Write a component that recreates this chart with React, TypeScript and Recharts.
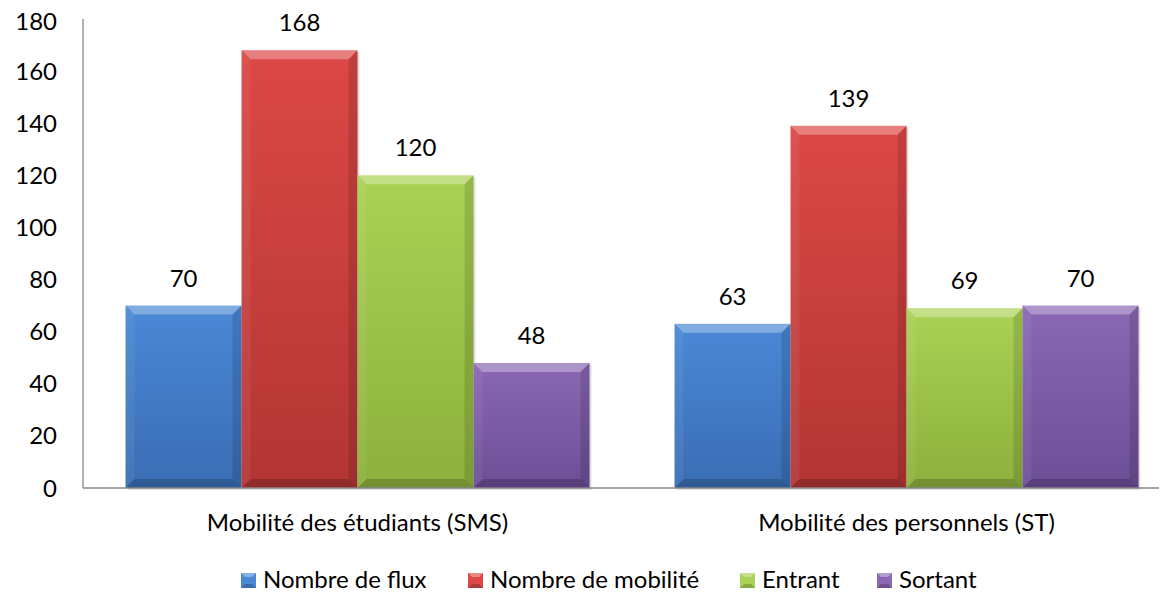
import React from 'react';
import { BarChart, Bar, XAxis, YAxis, Legend, LabelList } from 'recharts';

const categories = ['Mobilité des étudiants  (SMS)', 'Mobilité des personnels (ST)'];
const fluxValues = [70, 63];
const mobiliteValues = [168, 139];
const entrantValues = [120, 69];
const sortantValues = [48, 70];
const yTicks = [0, 20, 40, 60, 80, 100, 120, 140, 160, 180];

const series = [
  { key: 'flux', name: 'Nombre de flux', top: '#4a88d6', bottom: '#3a6db4' },
  { key: 'mobilite', name: 'Nombre de mobilité', top: '#dc4845', bottom: '#b23634' },
  { key: 'entrant', name: 'Entrant', top: '#aad255', bottom: '#8cb03c' },
  { key: 'sortant', name: 'Sortant', top: '#8a68b4', bottom: '#6c4e96' },
];

const data = categories.map((category, i) => ({
  category,
  flux: fluxValues[i],
  mobilite: mobiliteValues[i],
  entrant: entrantValues[i],
  sortant: sortantValues[i],
}));

const FONT = 'Lato, "Open Sans", sans-serif';

// bar with an Excel-like bevel
const bevelShape = (s: typeof series[number]) => (props: any) => {
  const { x, y, width: w, height: h } = props;
  if (!h || h <= 0) return <g />;
  const b = Math.min(9, w / 2, h / 2);
  const gid = `grad-${s.key}`;
  return (
    <g>
      <defs>
        <linearGradient id={gid} x1="0" y1="0" x2="0" y2="1">
          <stop offset="0" stopColor={s.top} />
          <stop offset="1" stopColor={s.bottom} />
        </linearGradient>
      </defs>
      <rect x={x + 2} y={y + 2} width={w} height={h} fill="rgba(0,0,0,0.12)" />
      <rect x={x} y={y} width={w} height={h} fill={`url(#${gid})`} />
      <polygon
        points={`${x},${y} ${x + w},${y} ${x + w - b},${y + b} ${x + b},${y + b}`}
        fill="rgba(255,255,255,0.3)"
      />
      <polygon
        points={`${x},${y} ${x + b},${y + b} ${x + b},${y + h - b} ${x},${y + h}`}
        fill="rgba(255,255,255,0.06)"
      />
      <polygon
        points={`${x + w},${y} ${x + w},${y + h} ${x + w - b},${y + h - b} ${x + w - b},${y + b}`}
        fill="rgba(0,0,0,0.12)"
      />
      <polygon
        points={`${x},${y + h} ${x + b},${y + h - b} ${x + w - b},${y + h - b} ${x + w},${y + h}`}
        fill="rgba(0,0,0,0.18)"
      />
    </g>
  );
};

const legendLefts = [233, 460, 732, 869];

const renderLegend = () => (
  <div style={{ position: 'relative', height: 44, fontFamily: FONT, fontSize: 24 }}>
    {series.map((s, i) => (
      <div key={s.key}>
        <svg
          width={15}
          height={15}
          style={{ position: 'absolute', left: legendLefts[i], top: 25 }}
        >
          <rect x={0} y={0} width={15} height={15} fill={s.top} />
          <polygon points="0,0 15,0 11,4 4,4" fill="rgba(255,255,255,0.35)" />
          <polygon points="0,15 4,11 11,11 15,15" fill="rgba(0,0,0,0.2)" />
        </svg>
        <span
          style={{
            position: 'absolute',
            left: legendLefts[i] + 22,
            top: 19,
            lineHeight: '24px',
            whiteSpace: 'nowrap',
            color: '#000',
          }}
        >
          {s.name}
        </span>
      </div>
    ))}
  </div>
);

export default function App() {
  return (
    <div style={{ width: 1159, height: 584, overflow: 'hidden' }}>
      <BarChart
        width={1180}
        height={584}
        data={data}
        margin={{ top: 11, right: 7, bottom: 0, left: 0 }}
        barCategoryGap="7.75%"
        barGap={0}
        style={{ fontFamily: FONT }}
      >
        <XAxis
          dataKey="category"
          height={60}
          tickLine={false}
          axisLine={{ stroke: '#868686', strokeWidth: 1.3 }}
          tickMargin={20}
          tick={{ fill: '#000', fontSize: 24 }}
          interval={0}
        />
        <YAxis
          width={75}
          domain={[0, 180]}
          ticks={yTicks}
          tickLine={false}
          axisLine={{ stroke: '#868686', strokeWidth: 1.3 }}
          tickMargin={20}
          tick={{ fill: '#000', fontSize: 24 }}
        />
        <Legend verticalAlign="bottom" height={44} content={renderLegend} />
        {series.map((s) => (
          <Bar
            key={s.key}
            dataKey={s.key}
            name={s.name}
            fill={s.top}
            shape={bevelShape(s)}
            isAnimationActive={false}
          >
            <LabelList
              dataKey={s.key}
              position="top"
              offset={19}
              fill="#000"
              fontSize={24}
              fontFamily={FONT}
            />
          </Bar>
        ))}
      </BarChart>
    </div>
  );
}
